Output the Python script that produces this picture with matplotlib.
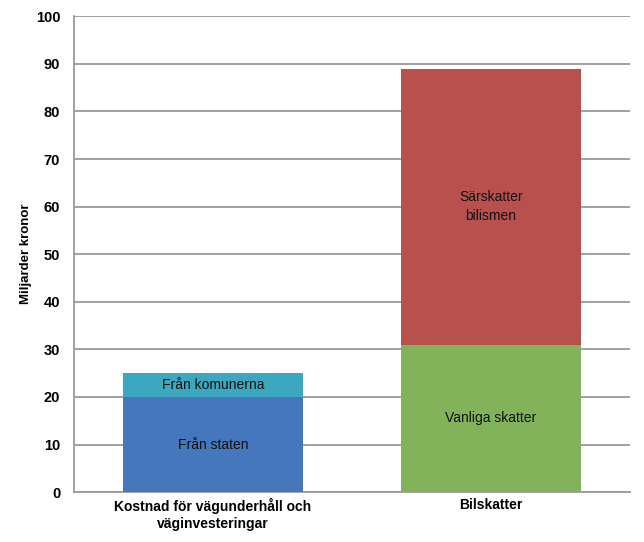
import numpy as np
import matplotlib.pyplot as plt

plt.rcParams['font.family'] = ['Liberation Sans', 'DejaVu Sans']

categories = ['Kostnad för vägunderhåll och\nväginvesteringar', 'Bilskatter']
# lower and upper segments of each stacked bar (miljarder kronor)
lower = [20, 31]
upper = [5, 58]
lower_labels = ['Från staten', 'Vanliga skatter']
upper_labels = ['Från komunerna', 'Särskatter\nbilismen']
lower_colors = ['#4577bd', '#82b25a']
upper_colors = ['#3ba8c0', '#b8514e']

fig = plt.figure(figsize=(6.44, 5.42), dpi=100)
ax = fig.add_axes([0.115, 0.092, 0.863, 0.878])

x = np.arange(len(categories))
w = 0.65
ax.bar(x, lower, width=w, color=lower_colors, zorder=3)
ax.bar(x, upper, width=w, bottom=lower, color=upper_colors, zorder=3)

for i in range(len(x)):
    ax.text(x[i], lower[i] / 2, lower_labels[i], ha='center', va='center',
            fontsize=10, color='#111111', zorder=4)
    ax.text(x[i], lower[i] + upper[i] / 2, upper_labels[i], ha='center', va='center',
            fontsize=10, color='#111111', zorder=4, linespacing=1.5)

ax.set_xlim(-0.5, 1.5)
ax.set_ylim(0, 100)
ax.set_yticks(np.arange(0, 101, 10))
ax.set_xticks(x)
ax.set_xticklabels(categories, fontsize=10, fontweight='bold', linespacing=1.3)
for lab in ax.get_yticklabels():
    lab.set_fontweight('bold')
    lab.set_fontsize(10.5)
ax.tick_params(axis='y', length=0, pad=10)
ax.tick_params(axis='x', length=0, pad=4)
ax.yaxis.grid(True, color='#9a9a9a', linewidth=1.3, zorder=0)
ax.set_axisbelow(True)
for s in ['top', 'right']:
    ax.spines[s].set_visible(False)
ax.spines['left'].set_color('#9a9a9a')
ax.spines['bottom'].set_color('#9a9a9a')
ax.spines['left'].set_linewidth(1.3)
ax.spines['bottom'].set_linewidth(1.3)
ax.set_ylabel('Miljarder kronor', fontsize=9.5, fontweight='bold', labelpad=3)

fig.savefig('out.png', dpi=100)
